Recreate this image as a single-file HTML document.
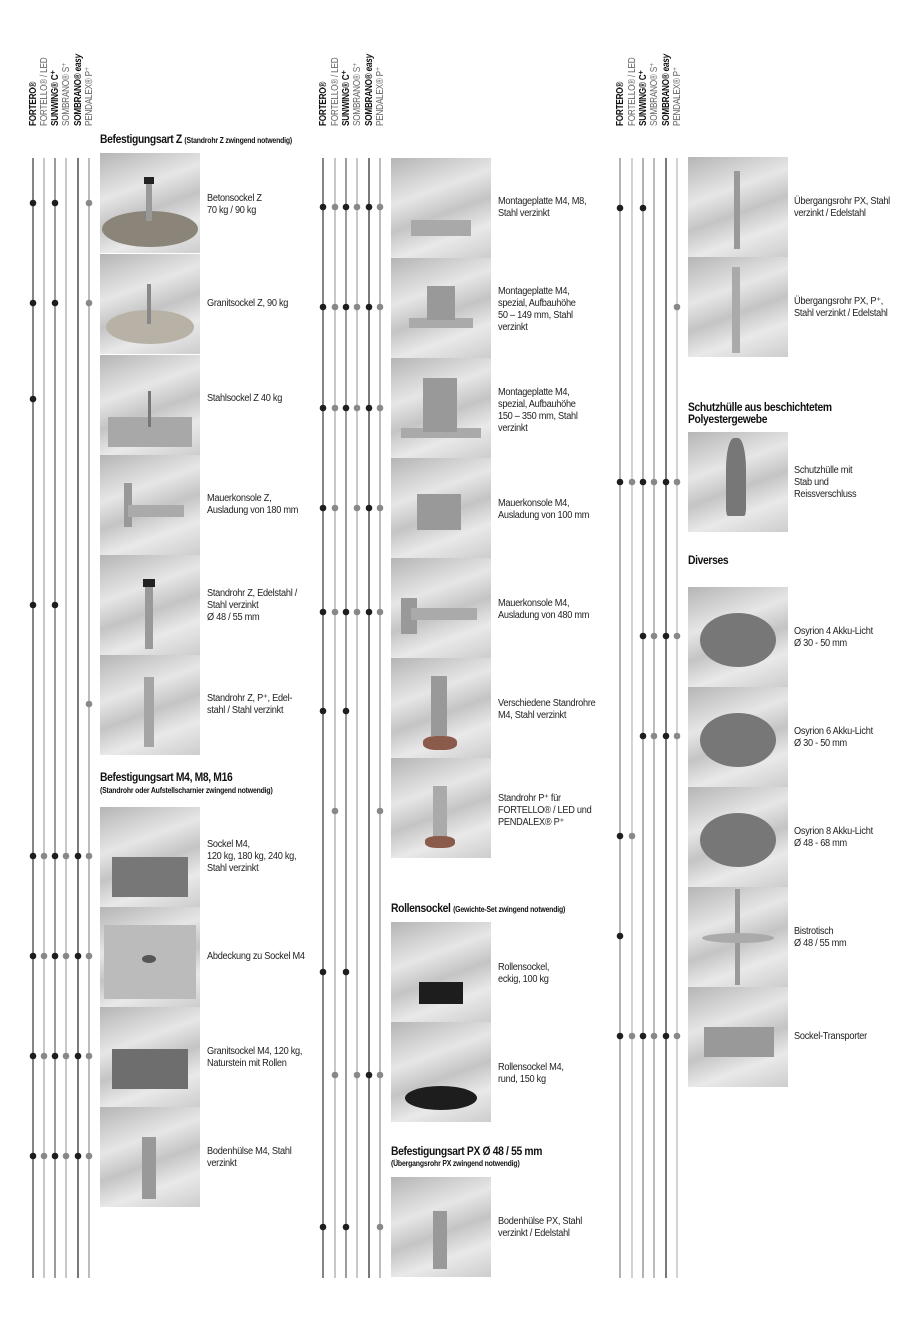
<!DOCTYPE html>
<html><head><meta charset="utf-8">
<style>
body{margin:0;background:#fff;}
#p{position:relative;width:900px;height:1323px;overflow:hidden;background:#fff;font-family:"Liberation Sans",sans-serif;color:#222;}
.im{position:absolute;width:100px;height:100px;background:linear-gradient(160deg,#b5b5b5 0%,#e6e6e6 35%,#c4c4c4 55%,#e9e9e9 75%,#cdcdcd 100%);overflow:hidden}
.im i{position:absolute;display:block}
.t{position:absolute;font-size:10px;line-height:12px;letter-spacing:-0.3px;color:#222;transform:scaleX(0.92);transform-origin:left top;white-space:nowrap}
.h{position:absolute;font-size:12px;font-weight:bold;letter-spacing:-0.4px;color:#111;line-height:12px;transform:scaleX(0.86);transform-origin:left top;white-space:nowrap}
.h small{font-size:8px;letter-spacing:-0.2px}
.s{position:absolute;font-size:8px;font-weight:bold;letter-spacing:-0.2px;color:#111;transform:scaleX(0.86);transform-origin:left top;white-space:nowrap}
.r{position:absolute;transform:rotate(-90deg) scaleX(0.78);transform-origin:left top;font-size:10.5px;line-height:11px;white-space:nowrap;letter-spacing:-0.3px}
.b{font-weight:bold;color:#111}.g{color:#666}
</style></head><body><div id="p">

<div class="r b" style="left:28px;top:126px">FORTERO®</div>
<div class="r g" style="left:39px;top:126px">FORTELLO® / LED</div>
<div class="r b" style="left:50px;top:126px">SUNWING® C⁺</div>
<div class="r g" style="left:61px;top:126px">SOMBRANO® S⁺</div>
<div class="r b" style="left:73px;top:126px">SOMBRANO® <i>easy</i></div>
<div class="r g" style="left:84px;top:126px">PENDALEX® P⁺</div>

<div class="r b" style="left:318px;top:126px">FORTERO®</div>
<div class="r g" style="left:330px;top:126px">FORTELLO® / LED</div>
<div class="r b" style="left:341px;top:126px">SUNWING® C⁺</div>
<div class="r g" style="left:352px;top:126px">SOMBRANO® S⁺</div>
<div class="r b" style="left:364px;top:126px">SOMBRANO® <i>easy</i></div>
<div class="r g" style="left:375px;top:126px">PENDALEX® P⁺</div>

<div class="r b" style="left:615px;top:126px">FORTERO®</div>
<div class="r g" style="left:627px;top:126px">FORTELLO® / LED</div>
<div class="r b" style="left:638px;top:126px">SUNWING® C⁺</div>
<div class="r g" style="left:649px;top:126px">SOMBRANO® S⁺</div>
<div class="r b" style="left:661px;top:126px">SOMBRANO® <i>easy</i></div>
<div class="r g" style="left:672px;top:126px">PENDALEX® P⁺</div>

<svg width="900" height="1323" style="position:absolute;left:0;top:0">
<g stroke-width="1.3">
<line x1="33" y1="158" x2="33" y2="1278" stroke="#444"/><line x1="44" y1="158" x2="44" y2="1278" stroke="#aaa"/><line x1="55" y1="158" x2="55" y2="1278" stroke="#666"/><line x1="66" y1="158" x2="66" y2="1278" stroke="#aaa"/><line x1="78" y1="158" x2="78" y2="1278" stroke="#333"/><line x1="89" y1="158" x2="89" y2="1278" stroke="#999"/>
<line x1="323" y1="158" x2="323" y2="1278" stroke="#444"/><line x1="335" y1="158" x2="335" y2="1278" stroke="#aaa"/><line x1="346" y1="158" x2="346" y2="1278" stroke="#666"/><line x1="357" y1="158" x2="357" y2="1278" stroke="#aaa"/><line x1="369" y1="158" x2="369" y2="1278" stroke="#333"/><line x1="380" y1="158" x2="380" y2="1278" stroke="#999"/>
<line x1="620" y1="158" x2="620" y2="1278" stroke="#888"/><line x1="632" y1="158" x2="632" y2="1278" stroke="#bbb"/><line x1="643" y1="158" x2="643" y2="1278" stroke="#888"/><line x1="654" y1="158" x2="654" y2="1278" stroke="#999"/><line x1="666" y1="158" x2="666" y2="1278" stroke="#333"/><line x1="677" y1="158" x2="677" y2="1278" stroke="#bbb"/>
</g>
<g fill="#1e1e1e">
<circle cx="33" cy="203" r="3.3"/><circle cx="55" cy="203" r="3.3"/>
<circle cx="33" cy="303" r="3.3"/><circle cx="55" cy="303" r="3.3"/>
<circle cx="33" cy="399" r="3.3"/>
<circle cx="33" cy="605" r="3.3"/><circle cx="55" cy="605" r="3.3"/>
<circle cx="33" cy="856" r="3.3"/><circle cx="55" cy="856" r="3.3"/><circle cx="78" cy="856" r="3.3"/>
<circle cx="33" cy="956" r="3.3"/><circle cx="55" cy="956" r="3.3"/><circle cx="78" cy="956" r="3.3"/>
<circle cx="33" cy="1056" r="3.3"/><circle cx="55" cy="1056" r="3.3"/><circle cx="78" cy="1056" r="3.3"/>
<circle cx="33" cy="1156" r="3.3"/><circle cx="55" cy="1156" r="3.3"/><circle cx="78" cy="1156" r="3.3"/>
<circle cx="323" cy="207" r="3.3"/><circle cx="346" cy="207" r="3.3"/><circle cx="369" cy="207" r="3.3"/>
<circle cx="323" cy="307" r="3.3"/><circle cx="346" cy="307" r="3.3"/><circle cx="369" cy="307" r="3.3"/>
<circle cx="323" cy="408" r="3.3"/><circle cx="346" cy="408" r="3.3"/><circle cx="369" cy="408" r="3.3"/>
<circle cx="323" cy="508" r="3.3"/><circle cx="369" cy="508" r="3.3"/>
<circle cx="323" cy="612" r="3.3"/><circle cx="346" cy="612" r="3.3"/><circle cx="369" cy="612" r="3.3"/>
<circle cx="323" cy="711" r="3.3"/><circle cx="346" cy="711" r="3.3"/>
<circle cx="323" cy="972" r="3.3"/><circle cx="346" cy="972" r="3.3"/>
<circle cx="369" cy="1075" r="3.3"/>
<circle cx="323" cy="1227" r="3.3"/><circle cx="346" cy="1227" r="3.3"/>
<circle cx="620" cy="208" r="3.3"/><circle cx="643" cy="208" r="3.3"/>
<circle cx="620" cy="482" r="3.3"/><circle cx="643" cy="482" r="3.3"/><circle cx="666" cy="482" r="3.3"/>
<circle cx="643" cy="636" r="3.3"/><circle cx="666" cy="636" r="3.3"/>
<circle cx="643" cy="736" r="3.3"/><circle cx="666" cy="736" r="3.3"/>
<circle cx="620" cy="836" r="3.3"/>
<circle cx="620" cy="936" r="3.3"/>
<circle cx="620" cy="1036" r="3.3"/><circle cx="643" cy="1036" r="3.3"/><circle cx="666" cy="1036" r="3.3"/>
</g>
<g fill="#888">
<circle cx="89" cy="203" r="3.3"/><circle cx="89" cy="303" r="3.3"/><circle cx="89" cy="704" r="3.3"/>
<circle cx="44" cy="856" r="3.3"/><circle cx="66" cy="856" r="3.3"/><circle cx="89" cy="856" r="3.3"/>
<circle cx="44" cy="956" r="3.3"/><circle cx="66" cy="956" r="3.3"/><circle cx="89" cy="956" r="3.3"/>
<circle cx="44" cy="1056" r="3.3"/><circle cx="66" cy="1056" r="3.3"/><circle cx="89" cy="1056" r="3.3"/>
<circle cx="44" cy="1156" r="3.3"/><circle cx="66" cy="1156" r="3.3"/><circle cx="89" cy="1156" r="3.3"/>
<circle cx="335" cy="207" r="3.3"/><circle cx="357" cy="207" r="3.3"/><circle cx="380" cy="207" r="3.3"/>
<circle cx="335" cy="307" r="3.3"/><circle cx="357" cy="307" r="3.3"/><circle cx="380" cy="307" r="3.3"/>
<circle cx="335" cy="408" r="3.3"/><circle cx="357" cy="408" r="3.3"/><circle cx="380" cy="408" r="3.3"/>
<circle cx="335" cy="508" r="3.3"/><circle cx="357" cy="508" r="3.3"/><circle cx="380" cy="508" r="3.3"/>
<circle cx="335" cy="612" r="3.3"/><circle cx="357" cy="612" r="3.3"/><circle cx="380" cy="612" r="3.3"/>
<circle cx="335" cy="811" r="3.3"/><circle cx="380" cy="811" r="3.3"/>
<circle cx="335" cy="1075" r="3.3"/><circle cx="357" cy="1075" r="3.3"/><circle cx="380" cy="1075" r="3.3"/>
<circle cx="380" cy="1227" r="3.3"/>
<circle cx="677" cy="307" r="3.3"/>
<circle cx="632" cy="482" r="3.3"/><circle cx="654" cy="482" r="3.3"/><circle cx="677" cy="482" r="3.3"/>
<circle cx="654" cy="636" r="3.3"/><circle cx="677" cy="636" r="3.3"/>
<circle cx="654" cy="736" r="3.3"/><circle cx="677" cy="736" r="3.3"/>
<circle cx="632" cy="836" r="3.3"/>
<circle cx="632" cy="1036" r="3.3"/><circle cx="654" cy="1036" r="3.3"/><circle cx="677" cy="1036" r="3.3"/>
</g>
</svg>

<div class="h" style="left:100px;top:133px">Befestigungsart Z <small>(Standrohr Z zwingend notwendig)</small></div>
<div class="im" style="left:100px;top:153px"><i style="left:2px;top:58px;width:96px;height:36px;border-radius:50%;background:#8a8578"></i><i style="left:46px;top:28px;width:6px;height:40px;background:#999"></i><i style="left:44px;top:24px;width:10px;height:7px;background:#222"></i></div>
<div class="im" style="left:100px;top:254px"><i style="left:6px;top:56px;width:88px;height:34px;border-radius:50%;background:#b8b2a6"></i><i style="left:47px;top:30px;width:4px;height:40px;background:#888"></i></div>
<div class="im" style="left:100px;top:355px"><i style="left:8px;top:62px;width:84px;height:30px;background:#a8a8a8"></i><i style="left:48px;top:36px;width:3px;height:36px;background:#777"></i></div>
<div class="im" style="left:100px;top:455px"><i style="left:24px;top:28px;width:8px;height:44px;background:#999"></i><i style="left:28px;top:50px;width:56px;height:12px;background:#aaa"></i></div>
<div class="im" style="left:100px;top:555px"><i style="left:45px;top:28px;width:8px;height:66px;background:#999"></i><i style="left:43px;top:24px;width:12px;height:8px;background:#222"></i></div>
<div class="im" style="left:100px;top:655px"><i style="left:44px;top:22px;width:10px;height:70px;background:#a5a5a5"></i></div>
<div class="t" style="left:207px;top:193px">Betonsockel Z<br>70 kg / 90 kg</div>
<div class="t" style="left:207px;top:298px">Granitsockel Z, 90 kg</div>
<div class="t" style="left:207px;top:393px">Stahlsockel Z 40 kg</div>
<div class="t" style="left:207px;top:493px">Mauerkonsole Z,<br>Ausladung von 180 mm</div>
<div class="t" style="left:207px;top:588px">Standrohr Z, Edelstahl /<br>Stahl verzinkt<br>Ø 48 / 55 mm</div>
<div class="t" style="left:207px;top:693px">Standrohr Z, P⁺, Edel-<br>stahl / Stahl verzinkt</div>

<div class="h" style="left:100px;top:771px">Befestigungsart M4, M8, M16</div>
<div class="s" style="left:100px;top:786px">(Standrohr oder Aufstellscharnier zwingend notwendig)</div>
<div class="im" style="left:100px;top:807px"><i style="left:12px;top:50px;width:76px;height:40px;background:#777"></i></div>
<div class="im" style="left:100px;top:907px"><i style="left:4px;top:18px;width:92px;height:74px;background:#bbb"></i><i style="left:42px;top:48px;width:14px;height:8px;border-radius:50%;background:#555"></i></div>
<div class="im" style="left:100px;top:1007px"><i style="left:12px;top:42px;width:76px;height:40px;background:#6e6e6e"></i></div>
<div class="im" style="left:100px;top:1107px"><i style="left:42px;top:30px;width:14px;height:62px;background:#999"></i></div>
<div class="t" style="left:207px;top:839px">Sockel M4,<br>120 kg, 180 kg, 240 kg,<br>Stahl verzinkt</div>
<div class="t" style="left:207px;top:951px">Abdeckung zu Sockel M4</div>
<div class="t" style="left:207px;top:1046px">Granitsockel M4, 120 kg,<br>Naturstein mit Rollen</div>
<div class="t" style="left:207px;top:1146px">Bodenhülse M4, Stahl<br>verzinkt</div>

<div class="im" style="left:391px;top:158px"><i style="left:20px;top:62px;width:60px;height:16px;background:#a9a9a9"></i></div>
<div class="im" style="left:391px;top:258px"><i style="left:18px;top:60px;width:64px;height:10px;background:#aaa"></i><i style="left:36px;top:28px;width:28px;height:34px;background:#999"></i></div>
<div class="im" style="left:391px;top:358px"><i style="left:10px;top:70px;width:80px;height:10px;background:#aaa"></i><i style="left:32px;top:20px;width:34px;height:54px;background:#999"></i></div>
<div class="im" style="left:391px;top:458px"><i style="left:26px;top:36px;width:44px;height:36px;background:#999"></i></div>
<div class="im" style="left:391px;top:558px"><i style="left:10px;top:40px;width:16px;height:36px;background:#999"></i><i style="left:20px;top:50px;width:66px;height:12px;background:#aaa"></i></div>
<div class="im" style="left:391px;top:658px"><i style="left:40px;top:18px;width:16px;height:60px;background:#999"></i><i style="left:32px;top:78px;width:34px;height:14px;border-radius:40%;background:#8a5a4a"></i></div>
<div class="im" style="left:391px;top:758px"><i style="left:42px;top:28px;width:14px;height:52px;background:#aaa"></i><i style="left:34px;top:78px;width:30px;height:12px;border-radius:40%;background:#8a5a4a"></i></div>
<div class="t" style="left:498px;top:196px">Montageplatte M4, M8,<br>Stahl verzinkt</div>
<div class="t" style="left:498px;top:286px">Montageplatte M4,<br>spezial, Aufbauhöhe<br>50 – 149 mm, Stahl<br>verzinkt</div>
<div class="t" style="left:498px;top:387px">Montageplatte M4,<br>spezial, Aufbauhöhe<br>150 – 350 mm, Stahl<br>verzinkt</div>
<div class="t" style="left:498px;top:498px">Mauerkonsole M4,<br>Ausladung von 100 mm</div>
<div class="t" style="left:498px;top:598px">Mauerkonsole M4,<br>Ausladung von 480 mm</div>
<div class="t" style="left:498px;top:698px">Verschiedene Standrohre<br>M4, Stahl verzinkt</div>
<div class="t" style="left:498px;top:793px">Standrohr P⁺ für<br>FORTELLO® / LED und<br>PENDALEX® P⁺</div>

<div class="h" style="left:391px;top:902px">Rollensockel <small>(Gewichte-Set zwingend notwendig)</small></div>
<div class="im" style="left:391px;top:922px"><i style="left:28px;top:60px;width:44px;height:22px;background:#1d1d1d"></i></div>
<div class="im" style="left:391px;top:1022px"><i style="left:14px;top:64px;width:72px;height:24px;border-radius:50%;background:#1d1d1d"></i></div>
<div class="t" style="left:498px;top:962px">Rollensockel,<br>eckig, 100 kg</div>
<div class="t" style="left:498px;top:1062px">Rollensockel M4,<br>rund, 150 kg</div>

<div class="h" style="left:391px;top:1145px">Befestigungsart PX Ø 48 / 55 mm</div>
<div class="s" style="left:391px;top:1159px">(Übergangsrohr PX zwingend notwendig)</div>
<div class="im" style="left:391px;top:1177px"><i style="left:42px;top:34px;width:14px;height:58px;background:#999"></i></div>
<div class="t" style="left:498px;top:1216px">Bodenhülse PX, Stahl<br>verzinkt / Edelstahl</div>

<div class="im" style="left:688px;top:157px"><i style="left:46px;top:14px;width:6px;height:78px;background:#999"></i></div>
<div class="im" style="left:688px;top:257px"><i style="left:44px;top:10px;width:8px;height:86px;background:#aaa"></i></div>
<div class="t" style="left:794px;top:196px">Übergangsrohr PX, Stahl<br>verzinkt / Edelstahl</div>
<div class="t" style="left:794px;top:296px">Übergangsrohr PX, P⁺,<br>Stahl verzinkt / Edelstahl</div>

<div class="h" style="left:688px;top:401px">Schutzhülle aus beschichtetem<br>Polyestergewebe</div>
<div class="im" style="left:688px;top:432px"><i style="left:38px;top:6px;width:20px;height:78px;border-radius:40% 40% 10% 10%;background:#777"></i></div>
<div class="t" style="left:794px;top:465px">Schutzhülle mit<br>Stab und<br>Reissverschluss</div>

<div class="h" style="left:688px;top:554px">Diverses</div>
<div class="im" style="left:688px;top:587px"><i style="left:12px;top:26px;width:76px;height:54px;border-radius:50%;background:#777"></i></div>
<div class="im" style="left:688px;top:687px"><i style="left:12px;top:26px;width:76px;height:54px;border-radius:50%;background:#777"></i></div>
<div class="im" style="left:688px;top:787px"><i style="left:12px;top:26px;width:76px;height:54px;border-radius:50%;background:#777"></i></div>
<div class="im" style="left:688px;top:887px"><i style="left:47px;top:2px;width:5px;height:96px;background:#999"></i><i style="left:14px;top:46px;width:72px;height:10px;border-radius:50%;background:#aaa"></i></div>
<div class="im" style="left:688px;top:987px"><i style="left:16px;top:40px;width:70px;height:30px;background:#999"></i></div>
<div class="t" style="left:794px;top:626px">Osyrion 4 Akku-Licht<br>Ø 30 - 50 mm</div>
<div class="t" style="left:794px;top:726px">Osyrion 6 Akku-Licht<br>Ø 30 - 50 mm</div>
<div class="t" style="left:794px;top:826px">Osyrion 8 Akku-Licht<br>Ø 48 - 68 mm</div>
<div class="t" style="left:794px;top:926px">Bistrotisch<br>Ø 48 / 55 mm</div>
<div class="t" style="left:794px;top:1031px">Sockel-Transporter</div>

</div></body></html>
